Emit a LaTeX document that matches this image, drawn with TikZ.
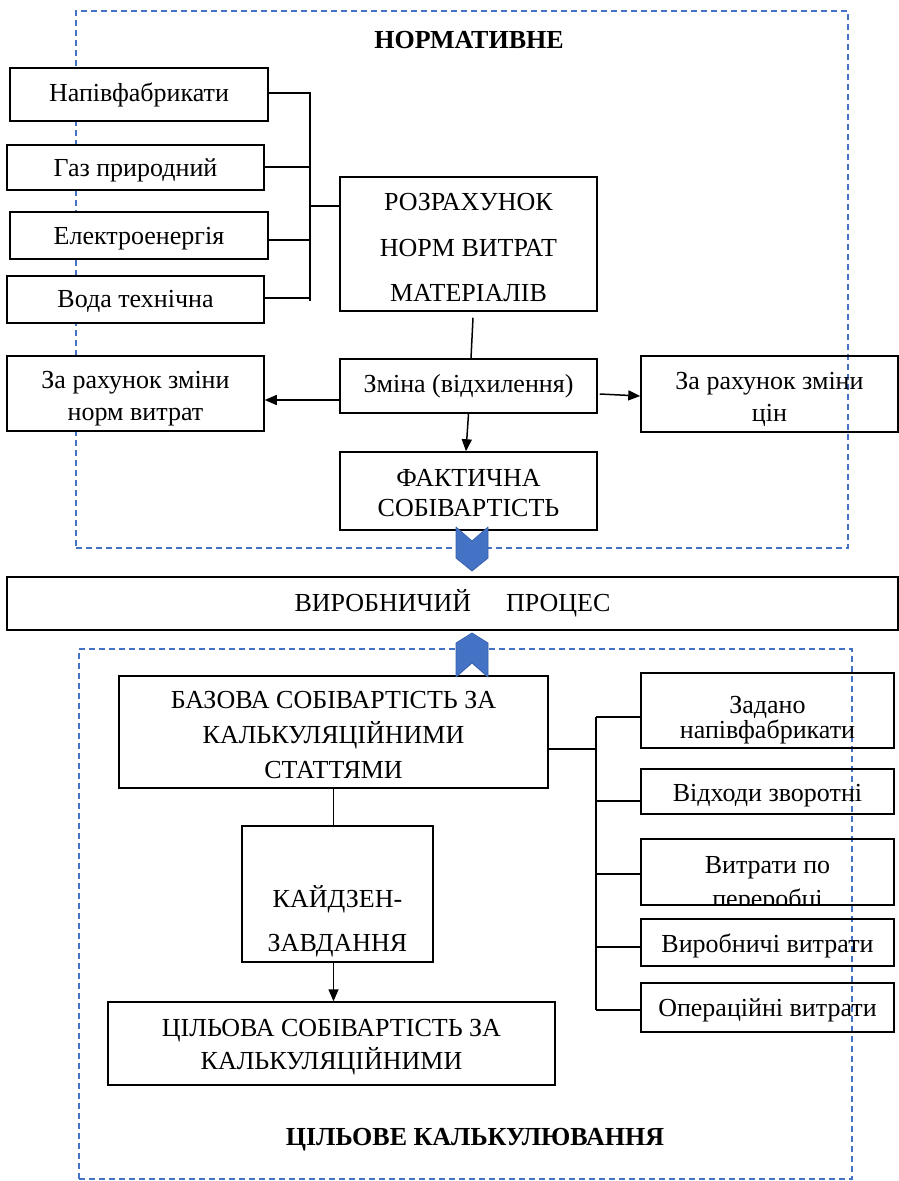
\documentclass[tikz,border=0pt]{standalone}
\usepackage{fontspec}
\setmainfont{Liberation Serif}
\usetikzlibrary{arrows.meta}
\definecolor{dashblue}{HTML}{4472C4}
\definecolor{chevfill}{HTML}{4472C4}
\definecolor{chevline}{HTML}{3A63AE}
\newcommand{\fs}[1]{\fontsize{26}{#1}\selectfont}
\begin{document}
\begin{tikzpicture}[x=1pt,y=-1pt,
 box/.style={draw=black, line width=1.5pt, inner sep=0pt},
 wbox/.style={box, fill=white},
 conn/.style={line width=1.5pt},
 arr/.style={conn, -{Triangle[length=12pt,width=10pt]}},
 grp/.style={draw=dashblue, line width=1.2pt, dash pattern=on 6pt off 4pt, inner sep=0pt},
 chev/.style={fill=chevfill, draw=chevline, line width=0.8pt, line join=round},
 ttl/.style={inner sep=0pt, font=\fontsize{26}{30}\selectfont\bfseries},
 tx/.style={inner sep=0pt, align=center, font=\fs{30}}
]
\useasboundingbox (0,0) rectangle (899,1181);

% group frames
\node[grp, minimum width=772, minimum height=537] (normgrp) at (462,279.5) {};
\node[grp, minimum width=773, minimum height=530] (cilgrp) at (465.5,914) {};
\node[ttl] (normttl) at (469,40) {НОРМАТИВНЕ};
\node[ttl] (cilttl) at (475,1140) {ЦІЛЬОВЕ КАЛЬКУЛЮВАННЯ};

% top part
\node[wbox, minimum width=258, minimum height=53] (napiv) at (139,94.5) {};
\node[tx] (napivt) at (139,94.5) {Напівфабрикати};
\node[wbox, minimum width=257, minimum height=45] (gaz) at (135.5,167.5) {};
\node[tx] (gazt) at (135.5,170.5) {Газ природний};
\node[wbox, minimum width=258, minimum height=47] (elek) at (139,235.5) {};
\node[tx] (elekt) at (139,238.5) {Електроенергія};
\node[wbox, minimum width=257, minimum height=47] (voda) at (135.5,299.5) {};
\node[tx] (vodat) at (135.5,301.5) {Вода технічна};
\node[box, minimum width=257, minimum height=134] (rozr) at (468.5,244) {};
\node[tx, font=\fs{45.5}] (rozrt) at (468.5,248) {РОЗРАХУНОК\\НОРМ ВИТРАТ\\МАТЕРІАЛІВ};
\node[box, minimum width=257, minimum height=54] (zmina) at (468.5,386) {};
\node[tx] (zminat) at (468.5,386) {Зміна (відхилення)};
\node[wbox, minimum width=257, minimum height=75] (lnorm) at (135.5,393.5) {};
\node[tx, font=\fs{32}] (lnormt) at (135.5,398.5) {За рахунок зміни\\норм витрат};
\node[box, minimum width=257, minimum height=76] (rcin) at (769.5,394) {};
\node[tx, font=\fs{32}] (rcint) at (769.5,399) {За рахунок зміни\\цін};
\node[box, minimum width=257, minimum height=78] (fakt) at (468.5,491) {};
\node[tx] (faktt) at (468.5,493) {ФАКТИЧНА\\СОБІВАРТІСТЬ};

\coordinate (lb1) at (310,93);
\coordinate (lb2) at (310,301);
\coordinate (lbj) at (310,206);
\coordinate (le2) at (310,167);
\coordinate (le3) at (310,240);
\coordinate (le4) at (310,298);
\draw[conn] (lb1) -- (lb2);
\draw[conn] (lb1 -| napiv.east) -- ([xshift=1]lb1);
\draw[conn] (le2 -| gaz.east) -- ([xshift=1]le2);
\draw[conn] (le3 -| elek.east) -- ([xshift=1]le3);
\draw[conn] (le4 -| voda.east) -- ([xshift=1]le4);
\draw[conn] (lbj) -- (lbj -| rozr.west);
\draw[conn] ([xshift=4.5,yshift=-6]rozr.south) -- ([xshift=2.5]zmina.north);
\draw[arr] ([yshift=-14]zmina.west) -- ([yshift=-14]zmina.west -| lnorm.east);
\draw[arr] ([xshift=2,yshift=-8]zmina.east) -- ([yshift=-2]rcin.west);
\draw[arr] (zmina.south) -- ([xshift=-2.5]fakt.north);

% middle
\node[box, minimum width=891, minimum height=53] (vyrob) at (452.5,603.5) {};
\node[tx] (vyrobt) at (452.5,603.5) {ВИРОБНИЧИЙ\hspace{35pt}ПРОЦЕС};

% lower part
\node[box, minimum width=429, minimum height=112] (baz) at (333.5,732) {};
\node[tx, font=\fs{35}] (bazt) at (333.5,735) {БАЗОВА СОБІВАРТІСТЬ ЗА\\КАЛЬКУЛЯЦІЙНИМИ\\СТАТТЯМИ};
\node[box, minimum width=191, minimum height=136] (kaiz) at (337.5,894) {};
\node[tx, font=\fs{44}] (kaizt) at (337.5,921) {КАЙДЗЕН-\\ЗАВДАННЯ};
\node[box, minimum width=447, minimum height=83] (cil) at (331.5,1043.5) {};
\node[tx, font=\fs{33}] (cilt) at (331.5,1047.5) {ЦІЛЬОВА СОБІВАРТІСТЬ ЗА\\КАЛЬКУЛЯЦІЙНИМИ};

\draw[conn] (baz.south) -- (baz.south |- kaiz.north);
\draw[arr] (kaiz.south -| baz.south) -- (cil.north -| baz.south);

\node[box, minimum width=253, minimum height=75] (zadano) at (767.5,710.5) {};
\node[tx, font=\fs{25}] (zadanot) at (767.5,720) {Задано\\напівфабрикати};
\node[box, minimum width=253, minimum height=45] (vidh) at (767.5,791.5) {};
\node[tx] (vidht) at (767.5,795.5) {Відходи зворотні};
\node[box, minimum width=253, minimum height=66] (vytr) at (767.5,872) {};
\node[tx, anchor=base] (vytrt1) at (767.5,873) {Витрати по};
\begin{scope}
\clip (641,839) rectangle (894,904.5);
\node[tx, anchor=base] (vytrt2) at (767.5,907) {переробці};
\end{scope}
\node[box, minimum width=253, minimum height=47] (vyrobn) at (767.5,942.5) {};
\node[tx] (vyrobnt) at (767.5,945.5) {Виробничі витрати};
\node[box, minimum width=253, minimum height=49] (oper) at (767.5,1007.5) {};
\node[tx] (opert) at (767.5,1010.5) {Операційні витрати};

\coordinate (rb1) at (596,717);
\coordinate (rb2) at (596,1010);
\coordinate (rbj) at (596,749);
\coordinate (r2) at (596,801);
\coordinate (r3) at (596,874);
\coordinate (r4) at (596,947);
\draw[conn] (rb1) -- (rb2);
\draw[conn] (rbj -| baz.east) -- (rbj);
\draw[conn] (rb1) -- (rb1 -| zadano.west);
\draw[conn] (r2) -- (r2 -| vidh.west);
\draw[conn] (r3) -- (r3 -| vytr.west);
\draw[conn] (r4) -- (r4 -| vyrobn.west);
\draw[conn] (rb2) -- (rb2 -| oper.west);

% chevrons
\draw[chev] (456,527) -- (472,541) -- (488,527) -- (488,558) -- (472,571) -- (456,558) -- cycle;
\draw[chev] (456,643) -- (472,633) -- (488,643) -- (488,677) -- (472,663) -- (456,677) -- cycle;
\end{tikzpicture}
\end{document}
